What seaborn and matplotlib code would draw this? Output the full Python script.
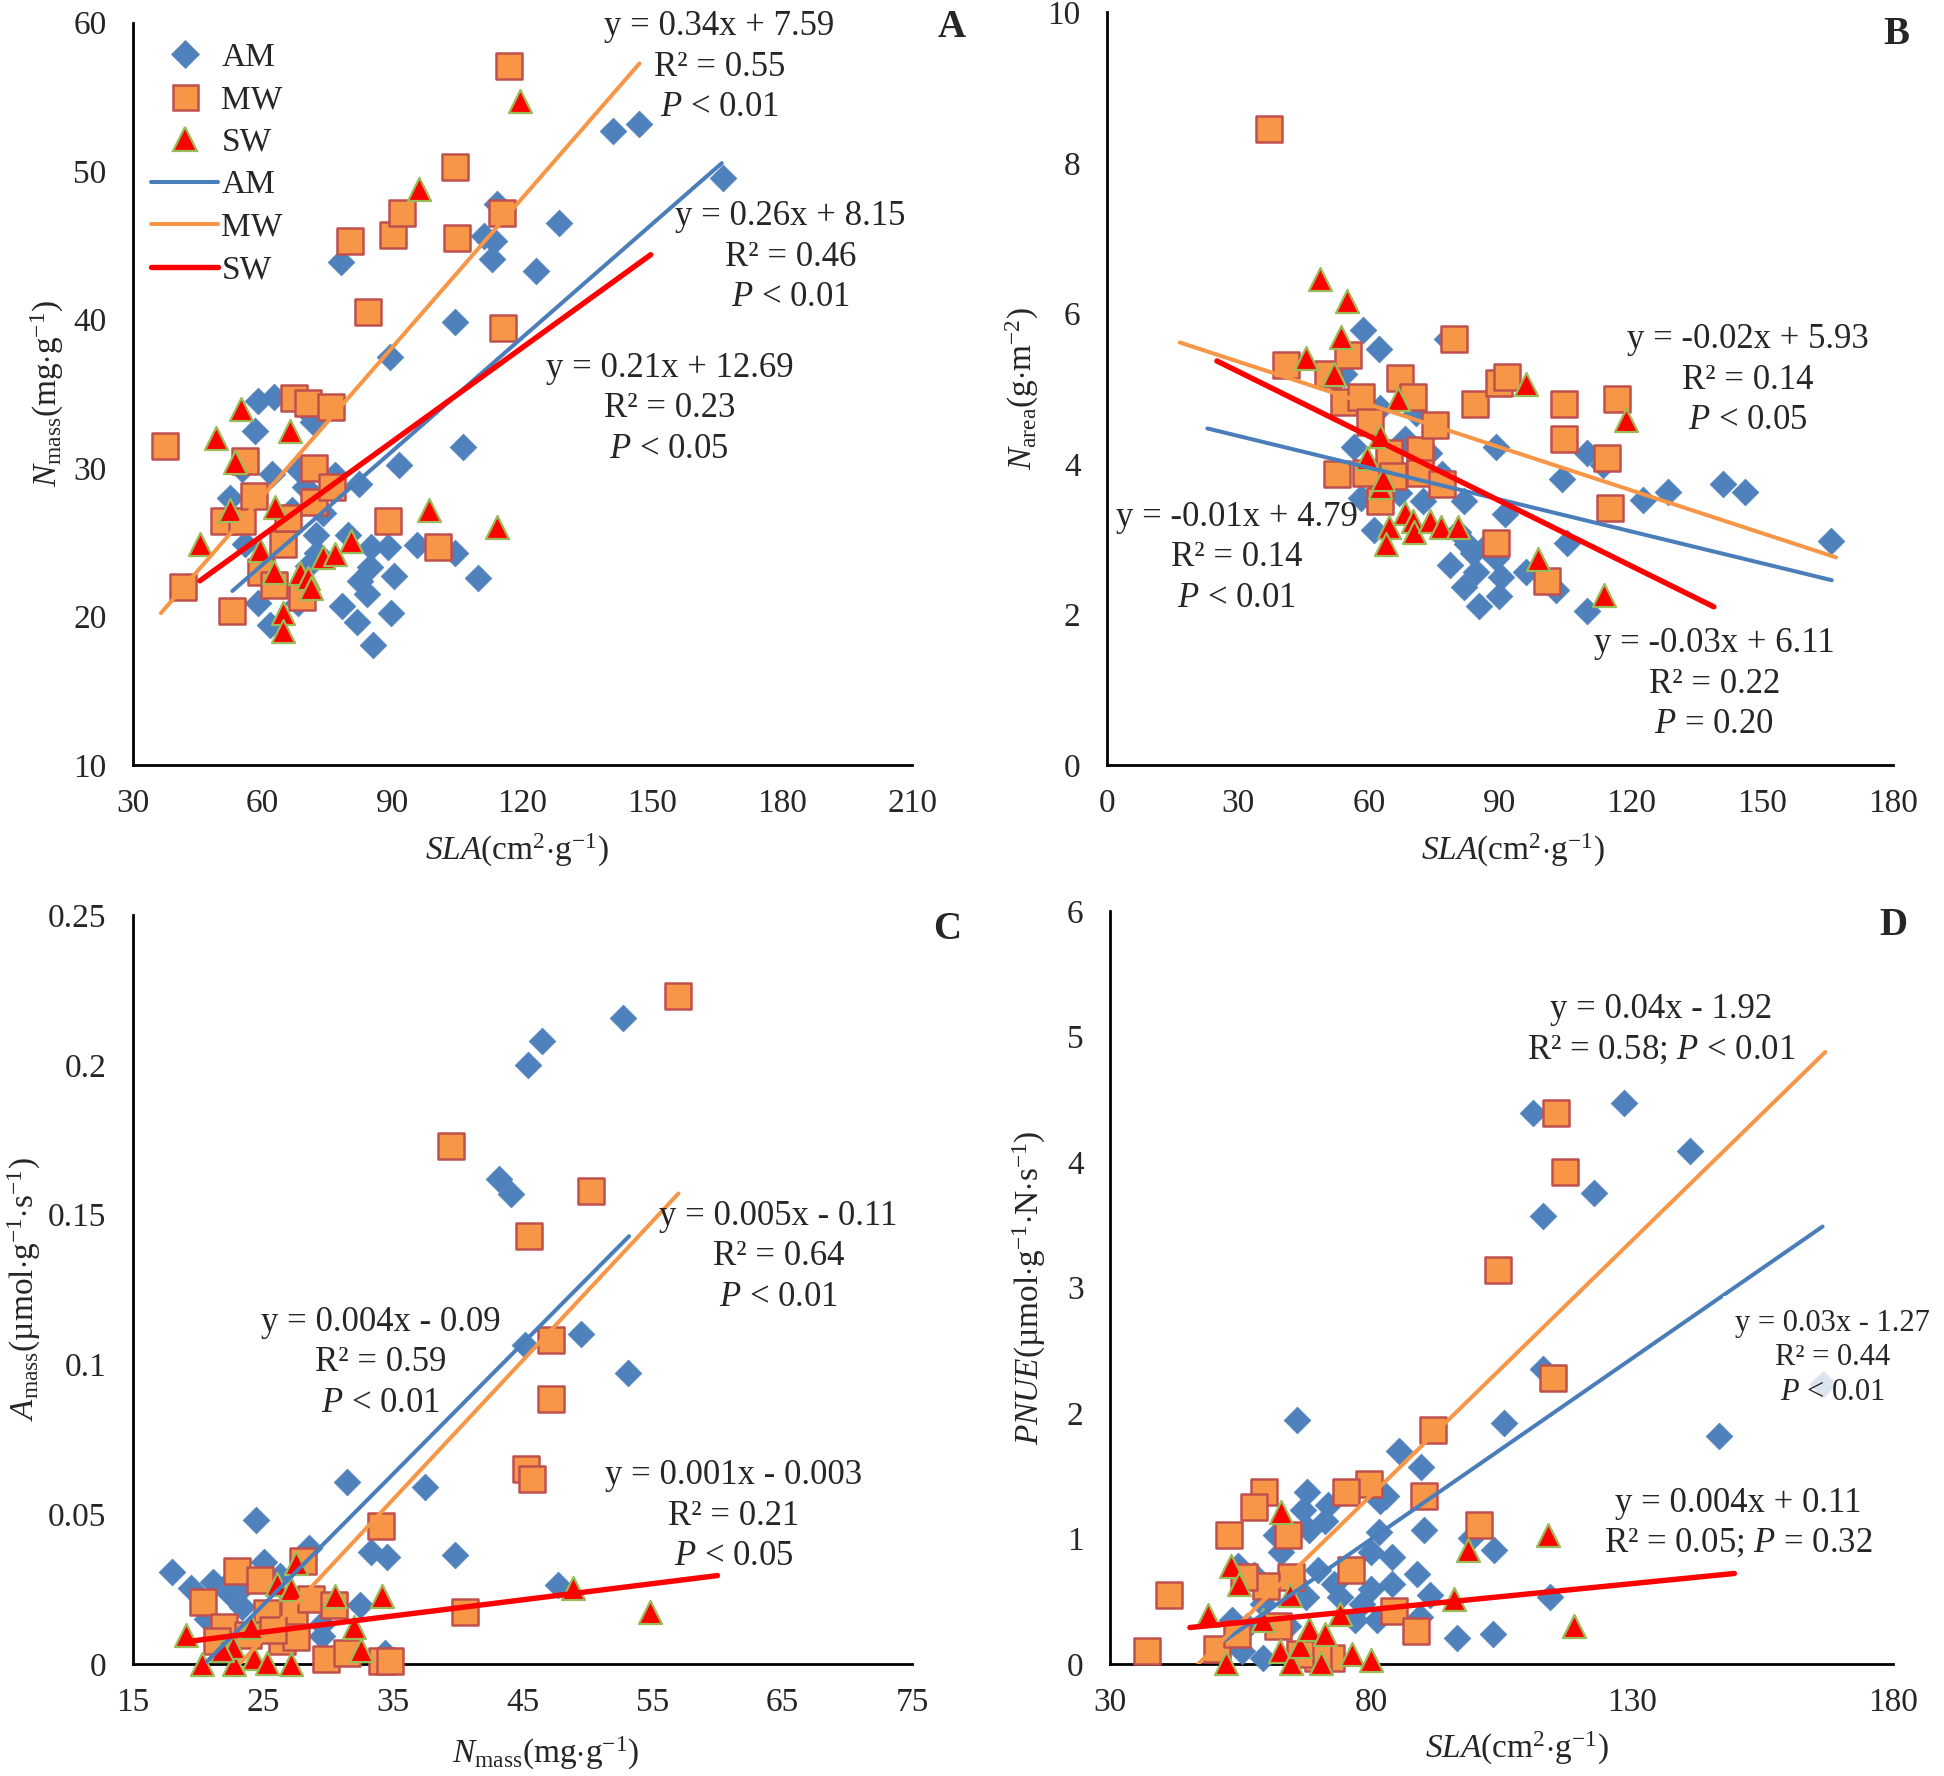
import numpy as np
import pandas as pd
import matplotlib
matplotlib.use("Agg")
from matplotlib import pyplot as plt
from matplotlib.lines import Line2D
from matplotlib.ticker import FuncFormatter
import seaborn as sns

# ---------------- data ----------------
# panel A : SLA vs Nmass
a_am_x = [78, 141, 147, 166.3, 128.4, 123, 114, 111, 113.3, 113, 104.5, 89.4, 106.3, 91.4, 82.3, 76.8,
          109.8, 104.5, 99.7, 95.7, 89, 90.4, 89.7, 85.4, 81.8, 84, 82.5, 84.7, 85.1, 79.7, 78.3, 72.3,
          72.6, 70.5, 68.2, 58.9, 62.5, 58.2, 62.1, 55.3, 52.5, 59, 61.6, 68.2, 71.6, 69.7, 56, 64.7,
          66.8, 74, 76.8, 69.7]
a_am_y = [43.9, 52.7, 53.2, 49.5, 46.5, 43.3, 47.8, 45.6, 45.3, 44.1, 39.8, 37.5, 31.4, 30.2, 28.9, 29.5,
          22.6, 24.3, 24.7, 24.8, 24.7, 22.7, 20.2, 18.1, 19.6, 21.5, 22.4, 23.3, 24.7, 25.5, 20.7, 25.5,
          24.3, 23.4, 20.9, 34.5, 34.8, 32.5, 29.6, 29.9, 28, 20.9, 19.4, 29.9, 33.1, 34, 24.9, 25.9,
          27.2, 27, 28.7, 28.7]
a_mw_x = [37.4, 41.5, 52.8, 51, 55.3, 55.8, 57.9, 59.6, 62.5, 64.7, 65.8, 67.2, 70.4, 75.8, 71.8, 71.8,
          76.1, 69, 80.1, 84.3, 90, 92.2, 104.5, 104.8, 115.2, 115.5, 116.9, 89, 100.5]
a_mw_y = [31.5, 22, 20.4, 26.4, 26.4, 30.5, 28.1, 23, 22.1, 24.9, 26.6, 34.7, 34.4, 34.1, 30, 27.7,
          28.7, 21.3, 45.3, 40.5, 45.7, 47.2, 50.3, 45.5, 47.2, 39.4, 57.1, 26.4, 24.7]
a_sw_x = [45.6, 49.2, 52.5, 53.6, 54.9, 59.4, 62.9, 62.5, 64.7, 64.7, 66.4, 68.7, 70.4, 71.1, 74, 76.8,
          80.4, 96, 98.3, 114.1, 119.5]
a_sw_y = [24.9, 32, 27.2, 30.4, 34, 24.5, 27.4, 23, 20.2, 19, 32.5, 22.9, 22.6, 21.9, 24, 24.2,
          25.1, 48.8, 27.2, 26, 54.7]

# panel B : SLA vs Narea
b_am_x = [58.7, 62.4, 54.2, 56.7, 58.1, 61.2, 62.6, 68.3, 70.8, 72.3, 66.9, 76.8, 77.9, 81.7, 82.4, 83.8,
          78.5, 81.7, 84.5, 85.2, 89.2, 90.2, 89.8, 89.2, 91.2, 95.9, 102.9, 105.3, 104.3, 110, 110, 113.5,
          122.7, 128.4, 141.1, 146.1, 165.9, 73.7, 68.3, 64.3, 80.5, 86.5]
b_am_y = [5.78, 5.53, 5.2, 4.22, 3.54, 3.12, 4.74, 4.33, 4.67, 3.5, 3.61, 3.86, 5.66, 3.5, 2.94, 2.82,
          2.65, 2.37, 2.56, 2.11, 2.75, 2.5, 2.24, 4.22, 3.33, 2.56, 2.33, 2.95, 3.8, 4.14, 2.05, 3.99,
          3.52, 3.63, 3.73, 3.63, 2.97, 4.14, 3.84, 3.77, 3.1, 2.9]
b_mw_x = [37.2, 41.1, 50.6, 55.3, 54.2, 58.1, 60.2, 52.7, 59.4, 62.6, 64.7, 65.5, 67.2, 70, 71.8, 71.8,
          75.1, 76.8, 79.6, 84.3, 89.2, 89.8, 91.6, 100.8, 104.6, 104.6, 114.5, 115.2, 116.8]
b_mw_y = [8.45, 5.31, 5.2, 5.44, 4.82, 4.89, 4.56, 3.86, 3.88, 3.5, 4.14, 3.84, 5.14, 4.89, 4.18, 3.88,
          4.52, 3.73, 5.66, 4.8, 2.95, 5.08, 5.16, 2.45, 4.8, 4.33, 4.08, 3.41, 4.86]
b_sw_x = [45.7, 48.9, 52, 53.5, 54.9, 59.5, 62.6, 62.6, 63.3, 64.7, 64, 66.6, 68.3, 70.1, 70.4, 74,
          76.5, 80.3, 95.9, 98.7, 113.8, 118.9]
b_sw_y = [5.4, 6.45, 5.2, 5.69, 6.16, 4.08, 4.37, 3.69, 3.8, 3.16, 2.94, 4.86, 3.35, 3.24, 3.09, 3.24,
          3.16, 3.16, 5.06, 2.73, 2.26, 4.58]

# panel C : Nmass vs Amass
c_am_x = [52.7, 46.5, 45.4, 43.2, 44.1, 49.5, 53.1, 45.2, 31.5, 37.5, 39.8, 33.3, 34.6, 32.5, 47.7, 24.5,
          25.1, 18, 19.5, 21.2, 22.4, 23.6, 28.6, 29.6, 29.6, 20.7, 21.9, 23.4, 26.3, 34.4, 25.8, 27.2, 22.7]
c_am_y = [0.2155, 0.208, 0.2, 0.162, 0.157, 0.110, 0.097, 0.1066, 0.0608, 0.0589, 0.0364, 0.0374, 0.0358,
          0.0198, 0.0264, 0.048, 0.034, 0.0306, 0.0255, 0.0274, 0.0236, 0.0264, 0.0387, 0.0132, 0.0094,
          0.0151, 0.0113, 0.0189, 0.0292, 0.0038, 0.0151, 0.0226, 0.0283]
c_mw_x = [57, 39.5, 50.3, 45.5, 47.2, 47.2, 45.3, 45.7, 34.1, 40.6, 23, 20.4, 22, 24.8, 25.3, 28.1, 27.4,
          28.7, 30.5, 26.5, 27.6, 29.9, 31.5, 34.2, 34.8, 23.9, 25.8, 21.5]
c_mw_y = [0.223, 0.173, 0.158, 0.1428, 0.108, 0.0883, 0.0651, 0.0617, 0.0462, 0.0174, 0.0311, 0.0208,
          0.0123, 0.0279, 0.017, 0.0345, 0.0174, 0.0217, 0.0198, 0.0075, 0.009, 0.0015, 0.0038, 0.0009,
          0.0009, 0.0098, 0.0113, 0.0075]
c_sw_x = [19.1, 20.3, 22.8, 22.7, 24.1, 24.3, 25.3, 26.1, 27.2, 27.2, 27.6, 30.6, 32, 32.6, 34.2, 48.9,
          54.8, 21.9]
c_sw_y = [0.0098, 0, 0, 0.0057, 0.0123, 0.0019, 0.0004, 0.0268, 0.0249, 0, 0.0336, 0.0226, 0.0123,
          0.0047, 0.0226, 0.0255, 0.0174, 0.0047]

# panel D : SLA vs PNUE
d_am_x = [128.4, 111, 141.1, 122.8, 113, 113, 166.5, 146.7, 105.4, 65.8, 85.3, 89.6, 90.2, 103.6, 99.2,
          114.2, 96.5, 103.3, 67.8, 67, 71.7, 71.1, 68.1, 81.7, 82.9, 81.5, 80, 84.1, 84.1, 88.8, 91.2,
          80, 78.2, 81.1, 77, 74.1, 72.9, 69.9, 67.6, 65.2, 62.8, 61.7, 59.3, 54.6, 57.5, 53.4, 55.2,
          59.3, 89.4, 64, 56.3]
d_am_y = [4.47, 4.39, 4.09, 3.75, 3.57, 2.35, 2.23, 1.82, 1.92, 1.94, 1.7, 1.57, 1.07, 0.91, 1.0,
          0.53, 0.21, 0.235, 1.37, 1.23, 1.27, 1.14, 1.07, 1.3, 1.34, 1.05, 0.89, 0.85, 0.64, 0.72, 0.55,
          0.6, 0.48, 0.35, 0.35, 0.53, 0.64, 0.75, 0.53, 0.66, 0.89, 1.03, 0.48, 0.78, 0.71, 0.35, 0.1,
          0.05, 0.37, 0.3, 0.3]
d_mw_x = [115.4, 117.2, 104.4, 114.8, 91.8, 79.6, 75.2, 90.2, 100.6, 59.5, 57.5, 52.8, 64, 64.6, 59.9,
          55.7, 76.2, 84.4, 88.6, 41.3, 37.1, 50.4, 54.3, 62.2, 72.3, 69.9, 66.4]
d_mw_y = [4.39, 3.92, 3.14, 2.28, 1.86, 1.43, 1.37, 1.34, 1.11, 1.37, 1.25, 1.03, 1.03, 0.69, 0.62,
          0.69, 0.75, 0.42, 0.26, 0.55, 0.1, 0.12, 0.24, 0.3, 0.05, 0.05, 0.08]
d_sw_x = [48.7, 53.1, 54.8, 52.2, 59.3, 62.8, 62.5, 64.6, 64.4, 66.4, 68.1, 70.5, 71.1, 74.1, 76.4, 80,
          95.9, 98.6, 113.9, 118.9]
d_sw_y = [0.39, 0.78, 0.64, 0.01, 0.35, 1.21, 0.1, 0.01, 0.55, 0.14, 0.28, 0.01, 0.235, 0.4, 0.08, 0.03,
          0.52, 0.91, 1.03, 0.3]

# fitted lines as drawn: slope, intercept, x from, x to
a_fits = {"AM": (0.255, 8.2, 53, 166), "MW": (0.335, 8.0, 36.5, 147), "SW": (0.211, 12.8, 45.5, 149.6)}
b_fits = {"AM": (-0.0141, 4.795, 23, 166), "MW": (-0.019, 5.93, 16.7, 167), "SW": (-0.0287, 6.09, 25.2, 139)}
c_fits = {"AM": (0.00437, -0.0897, 20.7, 53.2), "MW": (0.00465, -0.108, 23.3, 57), "SW": (0.00054, -0.0029, 19.1, 60)}
d_fits = {"AM": (0.0288, -1.31, 52, 166.5), "MW": (0.0406, -1.905, 46.9, 167), "SW": (0.00413, 0.103, 45.3, 149.6)}

groups = ["AM", "MW", "SW"]

# equation labels
a_notes = ["y = 0.34x + 7.59\nR² = 0.55\n$\\mathit{P}$ < 0.01",
           "y = 0.26x + 8.15\nR² = 0.46\n$\\mathit{P}$ < 0.01",
           "y = 0.21x + 12.69\nR² = 0.23\n$\\mathit{P}$ < 0.05"]
b_notes = ["y = -0.02x + 5.93\nR² = 0.14\n$\\mathit{P}$ < 0.05",
           "y = -0.01x + 4.79\nR² = 0.14\n$\\mathit{P}$ < 0.01",
           "y = -0.03x + 6.11\nR² = 0.22\n$\\mathit{P}$ = 0.20"]
c_notes = ["y = 0.005x - 0.11\nR² = 0.64\n$\\mathit{P}$ < 0.01",
           "y = 0.004x - 0.09\nR² = 0.59\n$\\mathit{P}$ < 0.01",
           "y = 0.001x - 0.003\nR² = 0.21\n$\\mathit{P}$ < 0.05"]
d_notes = ["y = 0.04x - 1.92\nR² = 0.58; $\\mathit{P}$ < 0.01",
           "y = 0.03x - 1.27\nR² = 0.44\n$\\mathit{P}$ < 0.01",
           "y = 0.004x + 0.11\nR² = 0.05; $\\mathit{P}$ = 0.32"]

# ---------------- style ----------------
sns.set_style("white")
plt.rcParams['font.family'] = ['Liberation Serif', 'DejaVu Serif']
plt.rcParams['mathtext.fontset'] = 'custom'
plt.rcParams['mathtext.rm'] = 'Liberation Serif'
plt.rcParams['mathtext.it'] = 'Liberation Serif:italic'
plt.rcParams['mathtext.bf'] = 'Liberation Serif:bold'

FS = 24
NFS = 25
face = {"AM": "#4F81BD", "MW": "#F79646", "SW": "#FF0000"}
edge = {"AM": "#4F81BD", "MW": "#C0504D", "SW": "#9BBB59"}
mk = {"AM": "D", "MW": "s", "SW": "^"}
msize = {"AM": 185, "MW": 330, "SW": 275}
mlw = {"AM": 0.5, "MW": 1.8, "SW": 1.6}
lcol = {"AM": "#4A7EBB", "MW": "#F79646", "SW": "#FF0000"}
llw = {"AM": 2.9, "MW": 2.9, "SW": 3.9}


def draw_panel(ax, pts, fits, xlim, ylim, xticks, yticks):
    for g in groups:
        df = pd.DataFrame({"x": pts[g][0], "y": pts[g][1]})
        sns.scatterplot(data=df, x="x", y="y", ax=ax, marker=mk[g], s=msize[g],
                        color=face[g], edgecolor=edge[g], linewidth=mlw[g],
                        legend=False, clip_on=False, zorder=3)
    for g in groups:
        k, b, x0, x1 = fits[g]
        xs = np.array([x0, x1])
        ax.plot(xs, k * xs + b, color=lcol[g], lw=llw[g], zorder=4, solid_capstyle='round')
    ax.set_xlim(xlim)
    ax.set_ylim(ylim)
    ax.set_xticks(xticks)
    ax.set_yticks(yticks)
    ax.yaxis.set_major_formatter(FuncFormatter(lambda v, p: f"{v:g}"))
    for s in ["top", "right"]:
        ax.spines[s].set_visible(False)
    for s in ["left", "bottom"]:
        ax.spines[s].set_linewidth(2.0)
        ax.spines[s].set_color("black")
    ax.tick_params(direction="in", length=7, width=1.6, labelsize=FS, color="black")
    ax.tick_params(axis="x", pad=17)
    ax.tick_params(axis="y", pad=19)
    ax.set_xlabel("")
    ax.set_ylabel("")


fig = plt.figure(figsize=(19.44, 17.76), dpi=100)
axA = fig.add_axes([0.0683, 0.5693, 0.401, 0.418])
axB = fig.add_axes([0.5694, 0.5693, 0.4043, 0.4238])
axC = fig.add_axes([0.0683, 0.0631, 0.401, 0.4217])
axD = fig.add_axes([0.571, 0.0631, 0.4028, 0.424])

draw_panel(axA, {"AM": (a_am_x, a_am_y), "MW": (a_mw_x, a_mw_y), "SW": (a_sw_x, a_sw_y)},
           a_fits, (30, 210), (10, 60), range(30, 211, 30), range(10, 61, 10))
draw_panel(axB, {"AM": (b_am_x, b_am_y), "MW": (b_mw_x, b_mw_y), "SW": (b_sw_x, b_sw_y)},
           b_fits, (0, 180), (0, 10), range(0, 181, 30), range(0, 11, 2))
draw_panel(axC, {"AM": (c_am_x, c_am_y), "MW": (c_mw_x, c_mw_y), "SW": (c_sw_x, c_sw_y)},
           c_fits, (15, 75), (0, 0.25), range(15, 76, 10), [0, 0.05, 0.1, 0.15, 0.2, 0.25])
draw_panel(axD, {"AM": (d_am_x, d_am_y), "MW": (d_mw_x, d_mw_y), "SW": (d_sw_x, d_sw_y)},
           d_fits, (30, 180), (0, 6), [30, 80, 130, 180], range(0, 7, 1))

# axis labels
labels = [
    (axA, r"$\mathit{SLA}\mathrm{(cm^{2}{\cdot}g^{-1})}$", r"$\mathit{N}_{\mathrm{mass}}\mathrm{(mg{\cdot}g^{-1})}$",
     (0.493, -0.115), (-0.110, 0.5)),
    (axB, r"$\mathit{SLA}\mathrm{(cm^{2}{\cdot}g^{-1})}$", r"$\mathit{N}_{\mathrm{area}}\mathrm{(g{\cdot}m^{-2})}$",
     (0.516, -0.114), (-0.107, 0.5)),
    (axC, r"$\mathit{N}_{\mathrm{mass}}\mathrm{(mg{\cdot}g^{-1})}$", r"$\mathit{A}_{\mathrm{mass}}\mathrm{(µmol{\cdot}g^{-1}{\cdot}s^{-1})}$",
     (0.53, -0.120), (-0.139, 0.5)),
    (axD, r"$\mathit{SLA}\mathrm{(cm^{2}{\cdot}g^{-1})}$", r"$\mathit{PNUE}\mathrm{(µmol{\cdot}g^{-1}{\cdot}N{\cdot}s^{-1})}$",
     (0.519, -0.112), (-0.103, 0.5)),
]
for ax, xl, yl, xc, yc in labels:
    ax.set_xlabel(xl, fontsize=FS)
    ax.set_ylabel(yl, fontsize=FS)
    ax.xaxis.label.set_va("center")
    ax.yaxis.label.set_va("center")
    ax.xaxis.set_label_coords(*xc)
    ax.yaxis.set_label_coords(*yc)

# panel letters
for ax, letter, xf, yf in [(axA, "A", 1.05, 1.018), (axB, "B", 1.005, 0.995),
                           (axC, "C", 1.045, 1.005), (axD, "D", 1.0, 1.005)]:
    ax.text(xf, yf, letter, transform=ax.transAxes, fontsize=28, fontweight="bold",
            ha="center", va="top", clip_on=False)

# equations
note_kw = dict(fontsize=NFS, ha="center", va="center", multialignment="center", linespacing=1.3, zorder=5)
axA.text(165.5, 57.0, a_notes[0], **note_kw)
axA.text(181.9, 44.2, a_notes[1], **note_kw)
axA.text(153.9, 34.0, a_notes[2], **note_kw)
axB.text(146.8, 5.11, b_notes[0], **note_kw)
axB.text(29.8, 2.75, b_notes[1], **note_kw)
axB.text(139.1, 1.07, b_notes[2], **note_kw)
axC.text(64.7, 0.136, c_notes[0], **note_kw)
axC.text(34.1, 0.1006, c_notes[1], **note_kw)
axC.text(61.25, 0.0493, c_notes[2], **note_kw)
axD.text(135.6, 5.05, d_notes[0], **note_kw)
axD.text(168.4, 2.44, d_notes[1], fontsize=22, ha="center", va="center", multialignment="center",
         linespacing=1.25, zorder=6, clip_on=False,
         bbox=dict(boxstyle="square,pad=0.4", facecolor="white", edgecolor="none", alpha=0.8))
axD.text(150.3, 1.12, d_notes[2], **note_kw)

# legend in panel A
handles = [Line2D([], [], ls="none", marker=mk[g], markersize={"AM": 14, "MW": 18, "SW": 17}[g],
                  markerfacecolor=face[g], markeredgecolor=edge[g], markeredgewidth=mlw[g]) for g in groups]
handles += [Line2D([], [], color=lcol[g], lw=llw[g]) for g in groups]
axA.legend(handles, groups + groups, loc="upper left", bbox_to_anchor=(-0.006, 1.005), frameon=False,
           fontsize=FS, handlelength=2.0, handletextpad=0.1, labelspacing=0.36, borderaxespad=0.3)

fig.savefig("out.png", dpi=100)
